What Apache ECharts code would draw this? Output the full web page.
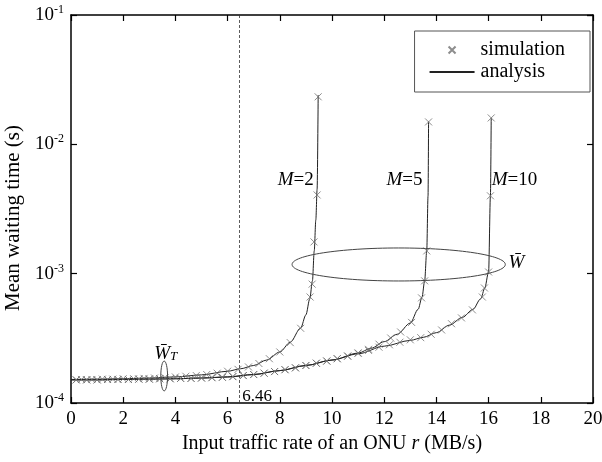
<!DOCTYPE html>
<html><head><meta charset="utf-8">
<script src="https://cdn.jsdelivr.net/npm/echarts@6/dist/echarts.min.js"></script>
<style>html,body{margin:0;padding:0;background:#fff}#c{width:602px;height:462px}</style>
</head><body><div id="c"></div>
<script>
// ---------- data ----------
const xTicks = [0, 2, 4, 6, 8, 10, 12, 14, 16, 18, 20];
const yTickExponents = [-4, -3, -2, -1];
const thresholdRate = 6.46;

const analysisM2 = [[0,1.52e-4],[1,1.53e-4],[2,1.54e-4],[3,1.56e-4],[4,1.59e-4],[5,1.65e-4],[6,1.76e-4],[6.5,1.84e-4],[7,1.95e-4],[7.5,2.15e-4],[8,2.48e-4],[8.4,2.95e-4],[8.8,3.8e-4],[9.0,4.8e-4],[9.15,6.4e-4],[9.25,8.8e-4],[9.32,1.5e-3],[9.38,2.6e-3],[9.43,4.5e-3],[9.47,2.4e-2]];
const analysisM5 = [[0,1.51e-4],[1,1.51e-4],[2,1.52e-4],[3,1.53e-4],[4,1.54e-4],[5,1.56e-4],[6,1.59e-4],[7,1.66e-4],[8,1.78e-4],[9,1.95e-4],[10,2.15e-4],[11,2.43e-4],[11.5,2.65e-4],[12,2.98e-4],[12.5,3.4e-4],[13,4.15e-4],[13.3,5.3e-4],[13.45,6.6e-4],[13.55,8.8e-4],[13.63,1.5e-3],[13.68,4e-3],[13.7,1.5e-2]];
const analysisM10 = [[0,1.51e-4],[1,1.51e-4],[2,1.52e-4],[3,1.53e-4],[4,1.54e-4],[5,1.56e-4],[6,1.59e-4],[7,1.66e-4],[8,1.78e-4],[9,1.95e-4],[10,2.15e-4],[11,2.4e-4],[12,2.75e-4],[13,3.05e-4],[13.5,3.22e-4],[14,3.5e-4],[14.5,4.0e-4],[15,4.6e-4],[15.4,5.3e-4],[15.7,6.4e-4],[15.85,7.7e-4],[16.0,1.03e-3],[16.07,4.0e-3],[16.1,1.6e-2]];

const simM2 = [[0.4,1.52e-4],[0.8,1.52e-4],[1.2,1.53e-4],[1.6,1.53e-4],[2.0,1.54e-4],[2.4,1.54e-4],[2.8,1.55e-4],[3.2,1.56e-4],[3.6,1.57e-4],[4.0,1.59e-4],[4.4,1.61e-4],[4.8,1.63e-4],[5.2,1.66e-4],[5.6,1.70e-4],[6.0,1.76e-4],[6.4,1.82e-4],[6.8,1.9e-4],[7.2,2.02e-4],[7.6,2.2e-4],[8.0,2.48e-4],[8.4,2.93e-4],[8.8,3.78e-4],[9.16,6.6e-4],[9.24,8.3e-4],[9.31,1.76e-3],[9.43,4.06e-3],[9.47,2.33e-2]];
const simM5 = [[0.2,1.51e-4],[0.6,1.51e-4],[1.0,1.51e-4],[1.4,1.52e-4],[1.8,1.52e-4],[2.2,1.52e-4],[2.6,1.53e-4],[3.0,1.53e-4],[3.4,1.54e-4],[3.8,1.54e-4],[4.2,1.55e-4],[4.6,1.55e-4],[5.0,1.56e-4],[5.4,1.57e-4],[5.8,1.58e-4],[6.2,1.60e-4],[6.6,1.63e-4],[7.0,1.66e-4],[7.4,1.70e-4],[7.8,1.75e-4],[8.2,1.81e-4],[8.6,1.87e-4],[9.0,1.95e-4],[9.4,2.03e-4],[9.8,2.11e-4],[10.2,2.2e-4],[10.6,2.31e-4],[11.0,2.44e-4],[11.4,2.6e-4],[11.8,2.85e-4],[12.25,3.18e-4],[12.63,3.54e-4],[13.05,4.2e-4],[13.43,6.5e-4],[13.55,8.8e-4],[13.63,1.5e-3],[13.7,1.49e-2]];
const simM10 = [[0.2,1.51e-4],[0.6,1.51e-4],[1.0,1.51e-4],[1.4,1.52e-4],[1.8,1.52e-4],[2.2,1.52e-4],[2.6,1.53e-4],[3.0,1.53e-4],[3.4,1.54e-4],[3.8,1.54e-4],[4.2,1.55e-4],[4.6,1.55e-4],[5.0,1.56e-4],[5.4,1.57e-4],[5.8,1.58e-4],[6.2,1.60e-4],[6.6,1.63e-4],[7.0,1.66e-4],[7.4,1.70e-4],[7.8,1.75e-4],[8.2,1.81e-4],[8.6,1.87e-4],[9.0,1.95e-4],[9.4,2.03e-4],[9.8,2.11e-4],[10.2,2.2e-4],[10.6,2.3e-4],[11.0,2.42e-4],[11.4,2.55e-4],[11.8,2.7e-4],[12.2,2.82e-4],[12.6,2.95e-4],[13.0,3.08e-4],[13.4,3.2e-4],[13.8,3.4e-4],[14.2,3.67e-4],[14.58,4.1e-4],[14.96,4.55e-4],[15.38,5.25e-4],[15.76,6.6e-4],[15.84,7.75e-4],[16.0,1.03e-3],[16.07,4.0e-3],[16.1,1.6e-2]];

// annotation anchors in data coordinates
const labelM2 = [9.3, 5.3e-3];
const labelM5 = [13.47, 5.3e-3];
const labelM10 = [16.12, 5.3e-3];
const labelW = [16.76, 1.21e-3];
const labelWT = [3.63, 2.39e-4];
const labelThreshold = [6.56, 1.13e-4];
const ellipseW = {x0: 8.47, x1: 16.64, y0: 8.78e-4, y1: 1.58e-3};
const ellipseWT = {x0: 3.44, x1: 3.70, y0: 1.24e-4, y1: 2.11e-4};

// ---------- chart ----------
const FONT = '"Liberation Serif", "Times New Roman", serif';
const CROSS = 'path://M0,0L10,10M10,0L0,10';
const chart = echarts.init(document.getElementById('c'), null, {renderer: 'canvas'});

function simSeries(data) {
  return {type: 'scatter', name: 'simulation', data: data, symbol: CROSS, symbolSize: 7,
    itemStyle: {color: 'none', borderColor: '#707070', borderWidth: 1}, z: 3, silent: true};
}
function anaSeries(data, extra) {
  return Object.assign({type: 'line', name: 'analysis', data: data, symbol: 'none', showSymbol: false,
    smooth: 0.3, smoothMonotone: 'x', lineStyle: {color: '#222', width: 1},
    itemStyle: {color: 'rgba(0,0,0,0)', borderWidth: 0}, z: 2, silent: true}, extra || {});
}
const axisCommon = {
  axisLine: {show: true, onZero: false, lineStyle: {color: '#000', width: 1.5}},
  axisTick: {show: true, inside: true, length: 6, lineStyle: {color: '#000', width: 1.2}},
  splitLine: {show: false}
};

chart.setOption({
  animation: false,
  backgroundColor: '#fff',
  grid: {left: 71, right: 9, top: 15, bottom: 59, containLabel: false, outerBoundsMode: 'none'},
  legend: {
    orient: 'vertical', right: 12, top: 31,
    data: ['simulation', 'analysis'],
    itemWidth: 45, itemHeight: 7, itemGap: 2,
    padding: [9, 25, 10, 14],
    borderColor: '#555', borderWidth: 1, backgroundColor: '#fff',
    textStyle: {fontFamily: FONT, fontSize: 20, color: '#000', padding: [0, 0, 0, 1]}
  },
  xAxis: [
    Object.assign({type: 'value', min: xTicks[0], max: xTicks[xTicks.length - 1], interval: 2,
      name: '{n|Input traffic rate of an ONU }{i|r}{n| (MB/s)}', nameLocation: 'middle', nameGap: 27,
      nameTextStyle: {rich: {n: {fontFamily: FONT, fontSize: 20, color: '#000'}, i: {fontFamily: FONT, fontSize: 20, fontStyle: 'italic', color: '#000'}}},
      axisLabel: {fontFamily: FONT, fontSize: 19, color: '#000', margin: 7}}, axisCommon),
    Object.assign({type: 'value', position: 'top', min: xTicks[0], max: xTicks[xTicks.length - 1], interval: 2,
      axisLabel: {show: false}}, axisCommon)
  ],
  yAxis: [
    Object.assign({type: 'log', logBase: 10, min: Math.pow(10, yTickExponents[0]), max: Math.pow(10, yTickExponents[yTickExponents.length - 1]),
      name: 'Mean waiting time (s)', nameLocation: 'middle', nameGap: 41,
      nameTextStyle: {fontFamily: FONT, fontSize: 21, color: '#000', padding: [0, 18, 0, 0]},
      axisLabel: {color: '#000', margin: 7,
        formatter: v => '{b|10}{s|' + Math.round(Math.log10(v)) + '}',
        rich: {b: {fontFamily: FONT, fontSize: 19, color: '#000'}, s: {fontFamily: FONT, fontSize: 12, color: '#000', padding: [0, 0, 10, 0]}}}}, axisCommon),
    Object.assign({type: 'log', logBase: 10, position: 'right', min: Math.pow(10, yTickExponents[0]), max: Math.pow(10, yTickExponents[yTickExponents.length - 1]),
      axisLabel: {show: false}}, axisCommon)
  ],
  series: [
    anaSeries(analysisM2, {markLine: {symbol: 'none', silent: true, label: {show: false},
      lineStyle: {type: [3, 2], color: '#333', width: 0.8}, data: [{xAxis: thresholdRate}]}}),
    anaSeries(analysisM5),
    anaSeries(analysisM10),
    simSeries(simM2),
    simSeries(simM5),
    simSeries(simM10)
  ]
});

function px(p) { return chart.convertToPixel({xAxisIndex: 0, yAxisIndex: 0}, p); }
function ellipseGraphic(e) {
  const a = px([e.x0, e.y0]), b = px([e.x1, e.y1]);
  return {type: 'ellipse', silent: true, z: 10,
    shape: {cx: (a[0] + b[0]) / 2, cy: (a[1] + b[1]) / 2, rx: Math.abs(b[0] - a[0]) / 2, ry: Math.abs(b[1] - a[1]) / 2},
    style: {fill: 'none', stroke: '#444', lineWidth: 1}};
}
function textGraphic(p, text, align, rich) {
  const q = px(p);
  return {type: 'text', silent: true, z: 10, x: q[0], y: q[1],
    style: {text: text, align: align, verticalAlign: 'middle', fill: '#000',
      font: '18px ' + FONT, rich: rich}};
}
const richM = {i: {fontFamily: FONT, fontSize: 19, fontStyle: 'italic', color: '#000'}, n: {fontFamily: FONT, fontSize: 19, color: '#000'}};
const richW = {w: {fontFamily: FONT, fontSize: 19, fontStyle: 'italic', color: '#000'}, t: {fontFamily: FONT, fontSize: 13, fontStyle: 'italic', color: '#000', padding: [6, 0, 0, 0]}};

chart.setOption({
  graphic: [
    ellipseGraphic(ellipseW),
    ellipseGraphic(ellipseWT),
    textGraphic(labelM2, '{i|M}{n|=2}', 'right', richM),
    textGraphic(labelM5, '{i|M}{n|=5}', 'right', richM),
    textGraphic(labelM10, '{i|M}{n|=10}', 'left', richM),
    textGraphic(labelW, '{w|W\u0304}', 'left', richW),
    textGraphic(labelWT, '{w|W\u0304}{t|T}', 'center', richW),
    textGraphic(labelThreshold, '{n|6.46}', 'left', {n: {fontFamily: FONT, fontSize: 17, color: '#000'}})
  ]
});
</script>
</body></html>
